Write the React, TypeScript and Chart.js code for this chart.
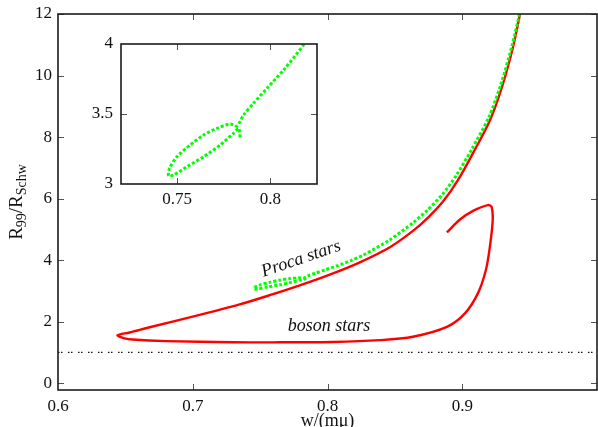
import React, { useEffect, useRef } from "react";
import { Chart, registerables } from "chart.js";

Chart.register(...registerables);

const FONT = "'Liberation Serif', 'Times New Roman', serif";

// Boson stars (red, solid): from top of main branch, down to the tip, back along the lower branch, up into the loop
const bosonX = [0.9429, 0.9377, 0.9295, 0.9206, 0.908, 0.8968, 0.886, 0.875, 0.8634, 0.8463, 0.824, 0.8017, 0.7794, 0.7571, 0.7348, 0.7051, 0.668, 0.6531, 0.6442, 0.6494, 0.6553, 0.6806, 0.7296, 0.7646, 0.8039, 0.8389, 0.8634, 0.8886, 0.902, 0.9116, 0.9175, 0.9205, 0.9226, 0.9218, 0.9191, 0.908, 0.8983, 0.8886];
const bosonY = [12.0, 10.93, 9.63, 8.55, 7.48, 6.6, 5.92, 5.4, 4.95, 4.42, 3.93, 3.53, 3.18, 2.86, 2.56, 2.22, 1.82, 1.65, 1.56, 1.46, 1.42, 1.37, 1.33, 1.33, 1.34, 1.4, 1.51, 1.83, 2.27, 2.92, 3.67, 4.43, 5.3, 5.73, 5.79, 5.6, 5.32, 4.9];

// Proca stars (green, dotted)
const procaX = [0.9425, 0.937, 0.9286, 0.9196, 0.907, 0.8955, 0.885, 0.874, 0.8636, 0.8463, 0.8264, 0.8178, 0.8071, 0.7982, 0.791, 0.7857, 0.7821, 0.7786, 0.7714, 0.7643, 0.7571, 0.75, 0.746, 0.7455, 0.7482, 0.7554, 0.7643, 0.7732, 0.7803, 0.783, 0.7839];
const procaY = [12.0, 10.98, 9.7, 8.63, 7.6, 6.75, 6.12, 5.62, 5.22, 4.66, 4.16, 3.993, 3.814, 3.683, 3.576, 3.493, 3.414, 3.429, 3.398, 3.35, 3.279, 3.195, 3.112, 3.057, 3.064, 3.124, 3.195, 3.279, 3.362, 3.398, 3.326];

// Horizontal reference line R99 = RSchw
const refX = [0.6, 1.0];
const refY = [1, 1];

const mainXTicks = [0.6, 0.7, 0.8, 0.9];
const mainYTicks = [0, 2, 4, 6, 8, 10, 12];
const insetXTicks = [0.75, 0.8];
const insetYTicks = [3, 3.5, 4];

const X_TITLE = "w/(mμ)";
const PROCA_LABEL = "Proca stars";
const BOSON_LABEL = "boson stars";

const pts = (xs: number[], ys: number[]) => xs.map((x, i) => ({ x, y: ys[i] }));

const framePlugin = {
  id: "frame",
  afterDatasetsDraw(chart: any, _args: any, opts: any) {
    const { ctx, chartArea: a, scales } = chart;
    ctx.save();
    const L = opts.tickLen || 6;
    ctx.strokeStyle = "#555";
    ctx.lineWidth = 1;
    ctx.beginPath();
    for (const v of opts.xTicks || []) {
      const p = Math.round(scales.x.getPixelForValue(v)) + 0.5;
      ctx.moveTo(p, a.bottom);
      ctx.lineTo(p, a.bottom - L);
      ctx.moveTo(p, a.top);
      ctx.lineTo(p, a.top + L);
    }
    for (const v of opts.yTicks || []) {
      const p = Math.round(scales.y.getPixelForValue(v)) + 0.5;
      ctx.moveTo(a.left, p);
      ctx.lineTo(a.left + L, p);
      ctx.moveTo(a.right, p);
      ctx.lineTo(a.right - L, p);
    }
    ctx.stroke();
    ctx.strokeStyle = "#1c1c1c";
    ctx.lineWidth = 1.6;
    ctx.strokeRect(a.left, a.top, a.right - a.left, a.bottom - a.top);
    ctx.restore();
  },
};

const mainTextPlugin = {
  id: "mainText",
  afterDraw(chart: any) {
    const { ctx, chartArea: a, scales } = chart;
    ctx.save();
    ctx.fillStyle = "#111";
    // x-axis title
    ctx.font = `18px ${FONT}`;
    ctx.textAlign = "center";
    ctx.textBaseline = "alphabetic";
    ctx.fillText(X_TITLE, (a.left + a.right) / 2, chart.height - 1);

    // y-axis title with subscripts
    const parts = [
      { t: "R", sub: false },
      { t: "99", sub: true },
      { t: "/R", sub: false },
      { t: "Schw", sub: true },
    ];
    const big = `19px ${FONT}`;
    const small = `14px ${FONT}`;
    let total = 0;
    for (const p of parts) {
      ctx.font = p.sub ? small : big;
      total += ctx.measureText(p.t).width;
    }
    ctx.translate(22, (a.top + a.bottom) / 2);
    ctx.rotate(-Math.PI / 2);
    ctx.textAlign = "left";
    let x = -total / 2;
    for (const p of parts) {
      ctx.font = p.sub ? small : big;
      ctx.fillText(p.t, x, p.sub ? 4 : 0);
      x += ctx.measureText(p.t).width;
    }
    ctx.setTransform(1, 0, 0, 1, 0, 0);

    // annotations
    ctx.font = `italic 18px ${FONT}`;
    ctx.textAlign = "left";
    ctx.textBaseline = "alphabetic";
    const px = scales.x.getPixelForValue(0.7525);
    const py = scales.y.getPixelForValue(3.457);
    ctx.save();
    ctx.translate(px, py);
    ctx.rotate((-19 * Math.PI) / 180);
    ctx.fillText(PROCA_LABEL, 0, 0);
    ctx.restore();
    ctx.fillText(BOSON_LABEL, scales.x.getPixelForValue(0.7705), scales.y.getPixelForValue(1.707));
    ctx.restore();
  },
};

function xScale(min: number, max: number, ticks: number[], height: number, padding: number) {
  return {
    type: "linear",
    min,
    max,
    grid: { display: false, drawTicks: false },
    border: { display: false },
    afterBuildTicks: (s: any) => {
      s.ticks = ticks.map((v) => ({ value: v }));
    },
    afterFit: (s: any) => {
      s.height = height;
      s.paddingLeft = 0;
      s.paddingRight = 0;
    },
    ticks: { font: { family: FONT, size: 17 }, color: "#111", padding, autoSkip: false, maxRotation: 0, minRotation: 0, callback: (v: any) => String(v) },
  };
}

function yScale(min: number, max: number, ticks: number[], width: number, padding: number) {
  return {
    type: "linear",
    min,
    max,
    grid: { display: false, drawTicks: false },
    border: { display: false },
    afterBuildTicks: (s: any) => {
      s.ticks = ticks.map((v) => ({ value: v }));
    },
    afterFit: (s: any) => {
      s.width = width;
      s.paddingTop = 0;
      s.paddingBottom = 0;
    },
    ticks: { font: { family: FONT, size: 17 }, color: "#111", padding, autoSkip: false, callback: (v: any) => String(v) },
  };
}

export default function App() {
  const mainRef = useRef<HTMLCanvasElement>(null);
  const insetRef = useRef<HTMLCanvasElement>(null);

  useEffect(() => {
    const main = new Chart(mainRef.current as HTMLCanvasElement, {
      type: "line",
      data: {
        datasets: [
          {
            label: "Proca stars",
            data: pts(procaX, procaY),
            borderColor: "#00ff00",
            borderWidth: 3,
            borderDash: [3, 2],
            pointRadius: 0,
            tension: 0.25,
            fill: false,
          },
          {
            label: "boson stars",
            data: pts(bosonX, bosonY),
            borderColor: "#ff0000",
            borderWidth: 2.4,
            pointRadius: 0,
            tension: 0.3,
            fill: false,
          },
          {
            label: "R99 = RSchw",
            data: pts(refX, refY),
            borderColor: "#111",
            borderWidth: 1.2,
            borderDash: [1.5, 1.5, 1.5, 5.5],
            pointRadius: 0,
            tension: 0,
            fill: false,
          },
        ],
      },
      options: {
        responsive: false,
        animation: false,
        layout: { padding: { left: 0, right: 1, top: 14, bottom: 0 } },
        plugins: {
          legend: { display: false },
          tooltip: { enabled: false },
          frame: { xTicks: [0.7, 0.8, 0.9], yTicks: mainYTicks, tickLen: 6 },
        } as any,
        scales: {
          x: xScale(0.6, 1.0, mainXTicks, 37, 6) as any,
          y: yScale(-0.22, 12, mainYTicks, 58, 6) as any,
        },
      },
      plugins: [framePlugin, mainTextPlugin],
    });

    const inset = new Chart(insetRef.current as HTMLCanvasElement, {
      type: "line",
      data: {
        datasets: [
          {
            label: "Proca stars",
            data: pts(procaX, procaY),
            borderColor: "#00ff00",
            borderWidth: 3,
            borderDash: [3, 2],
            pointRadius: 0,
            tension: 0.25,
            fill: false,
          },
        ],
      },
      options: {
        responsive: false,
        animation: false,
        layout: { padding: { left: 0, right: 13, top: 10, bottom: 0 } },
        plugins: {
          legend: { display: false },
          tooltip: { enabled: false },
          frame: { xTicks: insetXTicks, yTicks: [3.5], tickLen: 6 },
        } as any,
        scales: {
          x: xScale(0.72, 0.825, insetXTicks, 30, 5) as any,
          y: yScale(3, 4, insetYTicks, 41, 8) as any,
        },
      },
      plugins: [framePlugin],
    });

    return () => {
      main.destroy();
      inset.destroy();
    };
  }, []);

  return (
    <div style={{ position: "fixed", left: 0, top: 0, width: 598, height: 427, background: "#fff" }}>
      <canvas ref={mainRef} width={598} height={427} style={{ position: "absolute", left: 0, top: 0 }} />
      <canvas ref={insetRef} width={250} height={180} style={{ position: "absolute", left: 80, top: 34 }} />
    </div>
  );
}
